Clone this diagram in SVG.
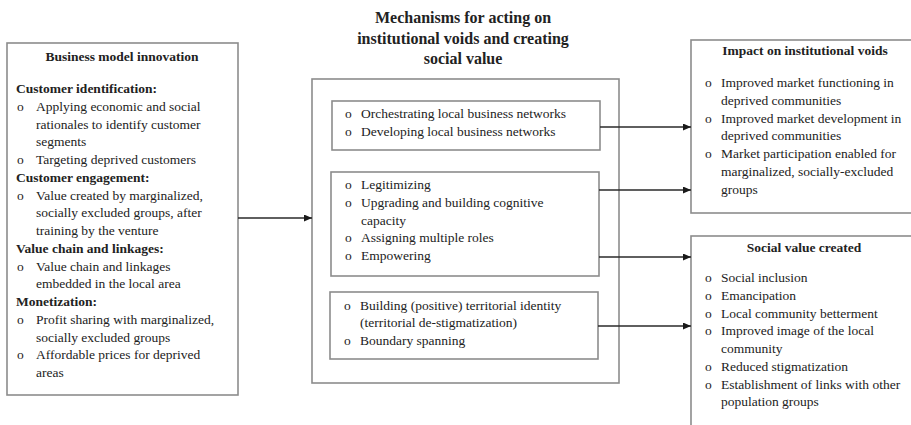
<svg xmlns="http://www.w3.org/2000/svg" width="911" height="425" viewBox="0 0 911 425">
<defs>
<style>
.box{fill:#fff;stroke:#8c8c8c;stroke-width:1.6}
.t{font-family:"Liberation Serif","Times New Roman",serif;font-size:13.5px;fill:#222}
.b{font-weight:bold}
.c{text-anchor:middle}
.ttl{font-family:"Liberation Serif","Times New Roman",serif;font-size:16px;font-weight:bold;fill:#222;text-anchor:middle}
.ln{stroke:#2a2a2a;stroke-width:1.5;fill:none;marker-end:url(#ah)}
</style>
<marker id="ah" viewBox="0 0 10 10" refX="10" refY="5" markerWidth="8" markerHeight="7" markerUnits="userSpaceOnUse" orient="auto" preserveAspectRatio="none">
<path d="M0,0 L10,5 L0,10 z" fill="#1a1a1a"/>
</marker>
</defs>
<rect width="911" height="425" fill="#fff"/>

<g id="business-model">
<rect class="box" x="7" y="43" width="231" height="352"/>
<text class="t b c" x="122" y="61">Business model innovation</text>
<text class="t b" x="16" y="93">Customer identification:</text>
<text class="t" x="17" y="110.75">o</text><text class="t" x="36" y="110.75">Applying economic and social</text>
<text class="t" x="36" y="128.5">rationales to identify customer</text>
<text class="t" x="36" y="146.25">segments</text>
<text class="t" x="17" y="164">o</text><text class="t" x="36" y="164">Targeting deprived customers</text>
<text class="t b" x="16" y="181.75">Customer engagement:</text>
<text class="t" x="17" y="199.5">o</text><text class="t" x="36" y="199.5">Value created by marginalized,</text>
<text class="t" x="36" y="217.25">socially excluded groups, after</text>
<text class="t" x="36" y="235">training by the venture</text>
<text class="t b" x="16" y="252.75">Value chain and linkages:</text>
<text class="t" x="17" y="270.5">o</text><text class="t" x="36" y="270.5">Value chain and linkages</text>
<text class="t" x="36" y="288.25">embedded in the local area</text>
<text class="t b" x="16" y="306">Monetization:</text>
<text class="t" x="17" y="323.75">o</text><text class="t" x="36" y="323.75">Profit sharing with marginalized,</text>
<text class="t" x="36" y="341.5">socially excluded groups</text>
<text class="t" x="17" y="359.25">o</text><text class="t" x="36" y="359.25">Affordable prices for deprived</text>
<text class="t" x="36" y="377">areas</text>
</g>

<g id="mechanisms">
<text class="ttl" x="463" y="23">Mechanisms for acting on</text>
<text class="ttl" x="463" y="43.5">institutional voids and creating</text>
<text class="ttl" x="463" y="64">social value</text>
<rect class="box" x="312" y="79" width="307" height="304"/>
</g>

<g id="networks">
<rect class="box" x="332" y="101" width="268" height="49"/>
<text class="t" x="345" y="118">o</text><text class="t" x="361" y="118">Orchestrating local business networks</text>
<text class="t" x="345" y="135.75">o</text><text class="t" x="361" y="135.75">Developing local business networks</text>
</g>

<g id="legitimizing">
<rect class="box" x="331" y="172" width="268" height="104"/>
<text class="t" x="345" y="189">o</text><text class="t" x="361" y="189">Legitimizing</text>
<text class="t" x="345" y="206.75">o</text><text class="t" x="361" y="206.75">Upgrading and building cognitive</text>
<text class="t" x="361" y="224.5">capacity</text>
<text class="t" x="345" y="242.25">o</text><text class="t" x="361" y="242.25">Assigning multiple roles</text>
<text class="t" x="345" y="260">o</text><text class="t" x="361" y="260">Empowering</text>
</g>

<g id="territorial">
<rect class="box" x="330" y="292" width="268" height="67"/>
<text class="t" x="344" y="309.5">o</text><text class="t" x="360" y="309.5">Building (positive) territorial identity</text>
<text class="t" x="360" y="327.25">(territorial de-stigmatization)</text>
<text class="t" x="344" y="345">o</text><text class="t" x="360" y="345">Boundary spanning</text>
</g>

<g id="impact">
<rect class="box" x="691" y="40" width="226" height="173"/>
<text class="t b c" x="805" y="55">Impact on institutional voids</text>
<text class="t" x="705" y="87">o</text><text class="t" x="721" y="87">Improved market functioning in</text>
<text class="t" x="721" y="104.75">deprived communities</text>
<text class="t" x="705" y="122.5">o</text><text class="t" x="721" y="122.5">Improved market development in</text>
<text class="t" x="721" y="140.25">deprived communities</text>
<text class="t" x="705" y="158">o</text><text class="t" x="721" y="158">Market participation enabled for</text>
<text class="t" x="721" y="175.75">marginalized, socially-excluded</text>
<text class="t" x="721" y="193.5">groups</text>
</g>

<g id="social-value">
<rect class="box" x="691" y="236" width="226" height="196"/>
<text class="t b c" x="804" y="252">Social value created</text>
<text class="t" x="705" y="282">o</text><text class="t" x="721" y="282">Social inclusion</text>
<text class="t" x="705" y="299.75">o</text><text class="t" x="721" y="299.75">Emancipation</text>
<text class="t" x="705" y="317.5">o</text><text class="t" x="721" y="317.5">Local community betterment</text>
<text class="t" x="705" y="335.25">o</text><text class="t" x="721" y="335.25">Improved image of the local</text>
<text class="t" x="721" y="353">community</text>
<text class="t" x="705" y="370.75">o</text><text class="t" x="721" y="370.75">Reduced stigmatization</text>
<text class="t" x="705" y="388.5">o</text><text class="t" x="721" y="388.5">Establishment of links with other</text>
<text class="t" x="721" y="406.25">population groups</text>
</g>

<g id="connectors">
<line class="ln" x1="238" y1="218" x2="312" y2="218"/>
<line class="ln" x1="600" y1="127" x2="691" y2="127"/>
<line class="ln" x1="599" y1="190" x2="691" y2="190"/>
<line class="ln" x1="599" y1="257" x2="691" y2="257"/>
<line class="ln" x1="598" y1="326" x2="691" y2="326"/>
</g>
</svg>
